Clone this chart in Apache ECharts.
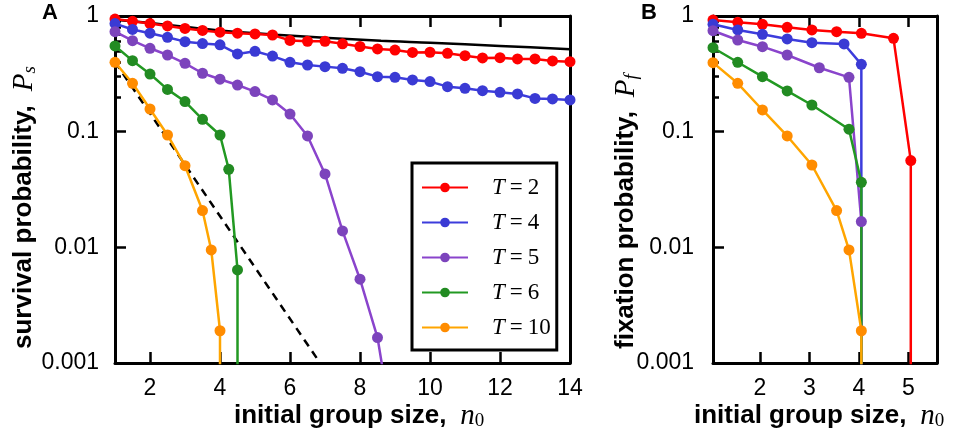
<!DOCTYPE html>
<html>
<head>
<meta charset="utf-8">
<script src="https://cdn.jsdelivr.net/npm/echarts@6/dist/echarts.min.js"></script>
<style>
html,body{margin:0;padding:0;background:#fff;}
#c{width:959px;height:436px;}
</style>
</head>
<body>
<div id="c"></div>
<script>
// ---------- Panel A data (survival probability) ----------
const nA = [1,1.5,2,2.5,3,3.5,4,4.5,5,5.5,6,6.5,7,7.5,8,8.5,9,9.5,10,10.5,11,11.5,12,12.5,13,13.5,14];
const aRed = [0.94,0.90,0.86,0.82,0.78,0.75,0.725,0.71,0.70,0.685,0.615,0.605,0.605,0.575,0.545,0.519,0.508,0.484,0.486,0.476,0.454,0.434,0.436,0.425,0.425,0.409,0.403];
const aBlue = [0.86,0.765,0.71,0.654,0.60,0.578,0.563,0.47,0.495,0.45,0.398,0.377,0.365,0.353,0.330,0.299,0.295,0.280,0.271,0.245,0.237,0.226,0.219,0.212,0.194,0.192,0.188];
const nAPurple = [1,1.5,2,2.5,3,3.5,4,4.5,5,5.5,6,6.5,7,7.5,8,8.5,9];
const aPurple = [0.732,0.612,0.526,0.460,0.390,0.320,0.284,0.253,0.222,0.188,0.142,0.0918,0.0431,0.01386,0.0053,0.00166,0.0002];
const nAGreen = [1,1.5,2,2.5,3,3.5,4,4.25,4.5,4.5];
const aGreen = [0.551,0.411,0.315,0.232,0.182,0.128,0.0936,0.0473,0.00638,0.000001];
const nAOrange = [1,1.5,2,2.5,3,3.5,3.75,4,4];
const aOrange = [0.398,0.262,0.157,0.0936,0.0508,0.0208,0.0095,0.0019,0.000001];
// reference curves in panel A
const nABlack = [1,2,4,5.6,8.6,10,12,14];
const aBlack = [0.93,0.87,0.75,0.69,0.61,0.588,0.551,0.516];
const nADash = [1,6.86];
const aDash = [0.4,0.001];

// ---------- Panel B data (fixation probability) ----------
const nBRed = [1.05,1.55,2.05,2.55,3.05,3.55,4.05,4.7,5.05,5.05];
const bRed = [0.923,0.882,0.848,0.799,0.757,0.732,0.709,0.641,0.0562,0.000001];
const nBBlue = [1.05,1.55,2.05,2.55,3.05,3.7,4.05,4.05];
const bBlue = [0.848,0.757,0.695,0.633,0.588,0.573,0.382,0.000001];
const nBPurple = [1.05,1.55,2.05,2.55,3.2,3.8,4.05,4.05];
const bPurple = [0.746,0.620,0.543,0.460,0.357,0.295,0.0167,0.000001];
const nBGreen = [1.05,1.55,2.05,2.55,3.05,3.8,4.05,4.05];
const bGreen = [0.532,0.398,0.299,0.225,0.170,0.105,0.0365,0.000001];
const nBOrange = [1.05,1.55,2.05,2.55,3.05,3.55,3.8,4.05,4.05];
const bOrange = [0.395,0.262,0.154,0.0918,0.0515,0.0208,0.0095,0.0019,0.000001];

// ---------- ticks / labels ----------
const xTicksA = [2,4,6,8,10,12,14];
const xTicksB = [2,3,4,5];
const yMinorTicks = [0.2,0.3,0.4,0.5,0.6,0.7,0.8,0.9];
const legendT = ['2','4','5','6','10'];
const legendNames = legendT.map(t => 'T = ' + t);

const lineColors = ['#ff0000','#3c3cdc','#8a44cc','#229922','#ffa500'];
const dotColors  = ['#ff0000','#3a3ad4','#7c44bc','#228b22','#ff8c00'];

const zip = (xs, ys) => xs.map((x, i) => [x, ys[i]]);

const SANS = '"Liberation Sans", Arial, Helvetica, sans-serif';
const SERIF = '"Liberation Serif", "DejaVu Serif", serif';
const AX = 3;

function xAxes(gridIndex, min, max, ticks) {
  const common = {
    type: 'value', gridIndex, min, max,
    splitLine: {show: false},
    axisLine: {show: true, onZero: false, lineStyle: {color: '#000', width: AX}},
    axisTick: {show: true, inside: true, length: 11, customValues: ticks, lineStyle: {color: '#000', width: 2.5}},
  };
  return [
    Object.assign({}, common, {position: 'bottom',
      axisLabel: {show: true, customValues: ticks, margin: 14, color: '#000', fontSize: 23, fontFamily: SANS}}),
    Object.assign({}, common, {position: 'top', axisLabel: {show: false}})
  ];
}
function yAxes(gridIndex, margin) {
  return [
    {type: 'log', logBase: 10, gridIndex, min: 0.001, max: 1, position: 'left',
     splitLine: {show: false},
     axisLine: {show: true, onZero: false, lineStyle: {color: '#000', width: AX}},
     axisTick: {show: true, inside: true, length: 11, lineStyle: {color: '#000', width: 2.5}},
     axisLabel: {show: true, margin: margin, color: '#000', fontSize: 23, fontFamily: SANS,
       formatter: v => String(v)}},
    {type: 'log', logBase: 10, gridIndex, min: 0.001, max: 1, position: 'left',
     splitLine: {show: false},
     axisLine: {show: false},
     axisTick: {show: true, inside: true, length: 6, customValues: yMinorTicks, lineStyle: {color: '#000', width: 2.5}},
     axisLabel: {show: false}},
    {type: 'log', logBase: 10, gridIndex, min: 0.001, max: 1, position: 'right',
     splitLine: {show: false},
     axisLine: {show: true, onZero: false, lineStyle: {color: '#000', width: AX}},
     axisTick: {show: false}, axisLabel: {show: false}}
  ];
}

function dataSeries(name, k, xi, yi, data) {
  return {
    type: 'line', name, xAxisIndex: xi, yAxisIndex: yi, data,
    symbol: 'circle', symbolSize: 11, clip: true,
    lineStyle: {color: lineColors[k], width: 2.5},
    itemStyle: {color: dotColors[k]},
    emphasis: {disabled: true}, animation: false, z: 3
  };
}

const series = [
  {type: 'line', name: 'black', xAxisIndex: 0, yAxisIndex: 0, data: zip(nABlack, aBlack),
   symbol: 'none', smooth: 0.3, lineStyle: {color: '#000', width: 2.5}, animation: false, z: 2, silent: true},
  {type: 'line', name: 'dash', xAxisIndex: 0, yAxisIndex: 0, data: zip(nADash, aDash),
   symbol: 'none', lineStyle: {color: '#000', width: 2.5, type: [8, 6]}, animation: false, z: 2, silent: true},
  dataSeries(legendNames[0], 0, 0, 0, zip(nA, aRed)),
  dataSeries(legendNames[1], 1, 0, 0, zip(nA, aBlue)),
  dataSeries(legendNames[2], 2, 0, 0, zip(nAPurple, aPurple)),
  dataSeries(legendNames[3], 3, 0, 0, zip(nAGreen, aGreen)),
  dataSeries(legendNames[4], 4, 0, 0, zip(nAOrange, aOrange)),
  dataSeries(legendNames[0], 0, 2, 3, zip(nBRed, bRed)),
  dataSeries(legendNames[1], 1, 2, 3, zip(nBBlue, bBlue)),
  dataSeries(legendNames[2], 2, 2, 3, zip(nBPurple, bPurple)),
  dataSeries(legendNames[3], 3, 2, 3, zip(nBGreen, bGreen)),
  dataSeries(legendNames[4], 4, 2, 3, zip(nBOrange, bOrange))
];

const mathRich = {
  b: {fontFamily: SANS, fontWeight: 'bold', fontSize: 26, lineHeight: 30, color: '#000'},
  g: {fontSize: 26, lineHeight: 30, width: 14},
  m: {fontFamily: SERIF, fontStyle: 'italic', fontSize: 29, lineHeight: 30, color: '#000'},
  sub: {fontFamily: SERIF, fontSize: 19, lineHeight: 12, verticalAlign: 'bottom', color: '#000'},
  subi: {fontFamily: SERIF, fontStyle: 'italic', fontSize: 19, lineHeight: 12, verticalAlign: 'bottom', color: '#000'}
};

const option = {
  backgroundColor: '#fff',
  animation: false,
  grid: [
    {left: 115, top: 16, width: 455, height: 347},
    {left: 713, top: 16, width: 224, height: 347}
  ],
  xAxis: [].concat(xAxes(0, 1, 14, xTicksA), xAxes(1, 1.05, 5.58, xTicksB)),
  yAxis: [].concat(yAxes(0, 16), yAxes(1, 19)),
  legend: {
    data: legendNames,
    orient: 'vertical', left: 412, top: 163,
    backgroundColor: '#fff', borderColor: '#000', borderWidth: 3,
    padding: [13, 6, 11, 9],
    itemWidth: 46, itemHeight: 12, itemGap: 12,
    selectedMode: false,
    textStyle: {
      padding: [0, 0, 0, 19],
      rich: {
        t: {fontFamily: SERIF, fontStyle: 'italic', fontSize: 23, lineHeight: 20, color: '#000'},
        e: {fontFamily: SERIF, fontSize: 23, lineHeight: 20, color: '#000', padding: [0, 5, 0, 5]},
        r: {fontFamily: SERIF, fontSize: 23, lineHeight: 20, color: '#000'}
      }
    },
    formatter: name => '{t|T}{e|=}{r|' + name.split('= ')[1] + '}'
  },
  graphic: [
    {type: 'text', x: 42, y: 2, style: {text: 'A', font: 'bold 22px ' + SANS, fill: '#000'}},
    {type: 'text', x: 641, y: 2, style: {text: 'B', font: 'bold 22px ' + SANS, fill: '#000'}},
    {type: 'text', x: 9, y: 349, rotation: Math.PI / 2,
     style: {text: '{b|survival probability,}{g|}{m|P}{subi|s}', rich: mathRich, align: 'left', verticalAlign: 'top'}},
    {type: 'text', x: 611, y: 349, rotation: Math.PI / 2,
     style: {text: '{b|fixation probability,}{g|}{m|P}{subi|f}', rich: mathRich, align: 'left', verticalAlign: 'top'}},
    {type: 'text', x: 234, y: 401,
     style: {text: '{b|initial group size,}{g|}{m|n}{sub|0}', rich: mathRich, align: 'left', verticalAlign: 'top'}},
    {type: 'text', x: 694, y: 401,
     style: {text: '{b|initial group size,}{g|}{m|n}{sub|0}', rich: mathRich, align: 'left', verticalAlign: 'top'}}
  ],
  series
};

const chart = echarts.init(document.getElementById('c'), null, {renderer: 'canvas'});
chart.setOption(option);
</script>
</body>
</html>
